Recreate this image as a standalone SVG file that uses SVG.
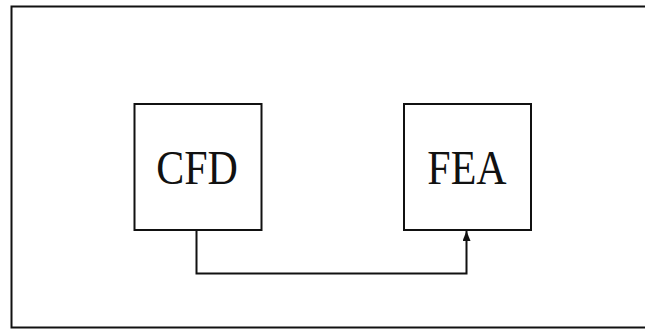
<svg xmlns="http://www.w3.org/2000/svg" width="645" height="329" viewBox="0 0 645 329">
  <defs>
    <style>
      .frame { fill: #ffffff; stroke: #111111; stroke-width: 2; }
      .box { fill: #ffffff; stroke: #111111; stroke-width: 2; }
      .label { font-family: "Liberation Serif", "Times New Roman", serif; font-size: 42px; fill: #111111; text-anchor: middle; }
      .link { fill: none; stroke: #111111; stroke-width: 2; }
    </style>
    <marker id="arrow" viewBox="0 0 10 8" refX="10" refY="4" markerUnits="userSpaceOnUse" markerWidth="10" markerHeight="8" orient="auto">
      <path d="M0,0 L10,4 L0,8 z" fill="#111111"/>
    </marker>
  </defs>
  <rect x="0" y="0" width="645" height="329" fill="#ffffff"/>
  <!-- outer frame; its right edge runs past the canvas -->
  <rect class="frame" x="11.5" y="6.5" width="640" height="321"/>

  <g id="cfd">
    <rect class="box" x="134.5" y="104" width="127" height="126"/>
    <text class="label" transform="translate(197,184) scale(1,1.15)">CFD</text>
  </g>

  <g id="fea">
    <rect class="box" x="404" y="104" width="127" height="126"/>
    <text class="label" transform="translate(467,184) scale(1,1.15)">FEA</text>
  </g>

  <g id="connectors">
    <path class="link" d="M196.5,230 V273.5 H466.5 V231" marker-end="url(#arrow)"/>
  </g>
</svg>
